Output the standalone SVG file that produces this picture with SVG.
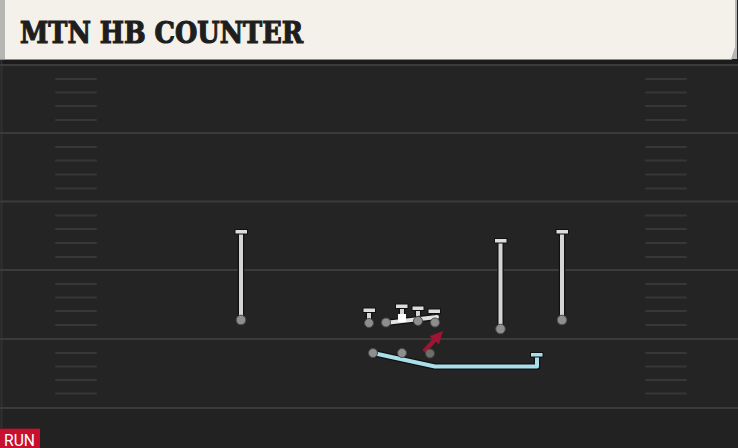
<svg xmlns="http://www.w3.org/2000/svg" width="738" height="448" viewBox="0 0 738 448">
<defs>
<style>
.yard{stroke:#3b3b3b;stroke-width:2}
.hash{stroke:#373737;stroke-width:2;stroke-linecap:round}
.out{fill:none;stroke:#111111;stroke-width:6.5;stroke-linecap:butt;stroke-linejoin:round}
.wr{fill:none;stroke:#d4d4d4;stroke-width:4}
.blk{fill:none;stroke:#e2e2e2;stroke-width:4;stroke-linecap:round}
.run{fill:none;stroke:#a9dfeb;stroke-width:4;stroke-linejoin:round}
.tbar{fill:#dcdcdc;stroke:#111111;stroke-width:1}
.tbarb{fill:#a9dfeb;stroke:#111111;stroke-width:1}
.dot{fill:#8e8e8e;stroke:#4a4a4a;stroke-width:1}
.red{fill:none;stroke:#9e1432;stroke-width:4.5}
</style>
<marker id="ah" viewBox="0 0 10 10" refX="2" refY="5" markerWidth="2.8" markerHeight="2.8" orient="auto" markerUnits="strokeWidth">
<path d="M0,0 L10,5 L0,10 z" fill="#9e1432"/>
</marker>
</defs>
<rect x="0" y="0" width="738" height="448" fill="#242424"/>
<rect x="0" y="59" width="738" height="6" fill="#1b1b1b"/>
<rect x="0" y="408" width="738" height="40" fill="#222222"/>
<line x1="1.5" y1="60" x2="1.5" y2="448" stroke="#303030" stroke-width="2"/>
<g id="field">
<line class="yard" x1="0" y1="65" x2="738" y2="65"/>
<line class="yard" x1="0" y1="133" x2="738" y2="133"/>
<line class="yard" x1="0" y1="201.5" x2="738" y2="201.5"/>
<line class="yard" x1="0" y1="270" x2="738" y2="270"/>
<line class="yard" x1="0" y1="339" x2="738" y2="339"/>
<line class="yard" x1="0" y1="408" x2="738" y2="408"/>
<g id="hashL">
<path class="hash" d="M56,79H96M56,92.5H96M56,106H96M56,120H96M56,147H96M56,160.5H96M56,174.5H96M56,188.5H96M56,215.5H96M56,229H96M56,243H96M56,257H96M56,284H96M56,297.5H96M56,311H96M56,325H96M56,353H96M56,366.5H96M56,380H96M56,393.5H96"/>
</g>
<g id="hashR">
<path class="hash" d="M646,79H686M646,92.5H686M646,106H686M646,120H686M646,147H686M646,160.5H686M646,174.5H686M646,188.5H686M646,215.5H686M646,229H686M646,243H686M646,257H686M646,284H686M646,297.5H686M646,311H686M646,325H686M646,353H686M646,366.5H686M646,380H686M646,393.5H686"/>
</g>
</g>
<g id="header">
<rect x="0" y="0" width="737" height="59" fill="#b5b5b3"/>
<path d="M5,0 H735 V47 L731,59 H5 Z" fill="#f4f1ea"/>
<line x1="0" y1="59.5" x2="732" y2="59.5" stroke="#8a8a88" stroke-width="1"/>
<text x="20" y="43" font-family="'DejaVu Serif', 'Liberation Serif', serif" font-weight="bold" font-size="29" fill="#1e1e1e" stroke="#1e1e1e" stroke-width="1.2" textLength="283" lengthAdjust="spacingAndGlyphs">MTN HB COUNTER</text>
</g>
<g id="connectors">
<g id="route-wr1"><path class="out" d="M241,320V232"/><path class="wr" d="M241,320V232"/><rect class="tbar" x="235" y="229.5" width="12.5" height="4.5"/></g>
<g id="route-wr2"><path class="out" d="M500.5,329V241"/><path class="wr" d="M500.5,329V241"/><rect class="tbar" x="494.5" y="238.5" width="12.5" height="4.5"/></g>
<g id="route-wr3"><path class="out" d="M562,320V232"/><path class="wr" d="M562,320V232"/><rect class="tbar" x="556" y="229.5" width="12.5" height="4.5"/></g>
<g id="block-te"><path class="out" d="M369,323V311"/><path class="wr" d="M369,323V311"/><rect class="tbar" x="363" y="308" width="12.5" height="4.5"/></g>
<g id="block-c"><path class="out" d="M402,316V307"/><path class="wr" d="M402,316V307"/><rect class="tbar" x="395.5" y="304" width="12.5" height="4.5"/></g>
<g id="block-rg"><path class="out" d="M418,321V309"/><path class="wr" d="M418,321V309"/><rect class="tbar" x="412" y="306" width="12" height="4.5"/></g>
<g id="block-rt"><path class="out" d="M434.5,322V312"/><path class="wr" d="M434.5,322V312"/><rect class="tbar" x="428" y="309" width="12.5" height="4.5"/></g>
<g id="block-line"><path class="out" d="M385,323L437,317" stroke-linecap="round"/><path class="blk" d="M385,323L437,317"/></g>
<g id="route-rb"><path class="out" d="M373,353L435,366.5H537V357"/><path class="run" d="M373,353L435,366.5H537V357"/><rect class="tbarb" x="530.5" y="352.5" width="12.5" height="4.5"/></g>
<g id="route-fb"><path class="red" d="M424,351.5L436,338.5" marker-end="url(#ah)"/></g>
</g>
<g id="p-wr1"><circle class="dot" cx="241" cy="320" r="4.8"/></g>
<g id="p-wr2"><circle class="dot" cx="500.5" cy="329" r="4.8"/></g>
<g id="p-wr3"><circle class="dot" cx="562" cy="320" r="4.8"/></g>
<g id="p-te"><circle class="dot" cx="369" cy="323" r="4.5"/></g>
<g id="p-lt"><circle class="dot" cx="386" cy="322.5" r="4.5"/></g>
<g id="p-c"><rect x="398" y="314" width="8" height="8" fill="#ffffff"/></g>
<g id="p-rg"><circle class="dot" cx="418" cy="321" r="4.5"/></g>
<g id="p-rt"><circle class="dot" cx="435" cy="322.5" r="4.5"/></g>
<g id="p-qb"><circle class="dot" cx="373" cy="353" r="4.5"/></g>
<g id="p-rb"><circle class="dot" cx="402" cy="353" r="4.5"/></g>
<g id="p-fb"><circle class="dot" cx="430" cy="353.5" r="4.5" opacity="0.7"/></g>
<g id="tag">
<rect x="0" y="428" width="40" height="20" fill="#c8102e"/>
<line x1="0" y1="428.5" x2="40" y2="428.5" stroke="#5a1a22" stroke-width="1"/>
<text x="4" y="445.5" font-family="Roboto, 'Liberation Sans', sans-serif" font-size="17" fill="#ffffff" textLength="31" lengthAdjust="spacingAndGlyphs">RUN</text>
</g>
</svg>
